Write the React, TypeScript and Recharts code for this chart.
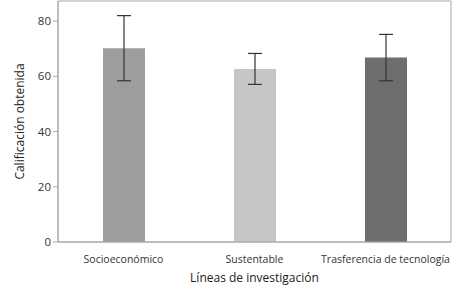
import React from "react";
import { BarChart, Bar, XAxis, YAxis, ErrorBar, Cell, Label, ReferenceArea } from "recharts";

const categories = ["Socioeconómico", "Sustentable", "Trasferencia de tecnología"];
const means = [70.2, 62.7, 66.8];
const errors = [11.8, 5.6, 8.4];
const colors = ["#9d9d9d", "#c6c6c6", "#6e6e6e"];
const yTicks = [0, 20, 40, 60, 80];
const yMax = 87.3;

const data = categories.map((name, i) => ({ name, value: means[i], err: errors[i] }));

const FONT = "'Open Sans', 'Noto Sans', sans-serif";

export default function App() {
  return (
    <div style={{ position: "absolute", left: 0, top: 0, width: 454, height: 293, background: "#fff" }}>
      <BarChart
        width={454}
        height={293}
        data={data}
        margin={{ top: 1, right: 3, bottom: 9, left: 0 }}
      >
        <ReferenceArea y1={0} y2={yMax} fill="none" stroke="#a8a8a8" strokeWidth={1} ifOverflow="visible" />
        <XAxis
          dataKey="name"
          axisLine={{ stroke: "#a8a8a8" }}
          tickLine={false}
          tick={{ fill: "#333", fontSize: 10.5, fontFamily: FONT }}
          tickMargin={8}
          height={42}
          interval={0}
        >
          <Label value="Líneas de investigación" position="insideBottom" offset={2} style={{ fill: "#222", fontSize: 12, fontFamily: FONT }} />
        </XAxis>
        <YAxis
          domain={[0, yMax]}
          ticks={yTicks}
          axisLine={{ stroke: "#a8a8a8" }}
          tickLine={{ stroke: "#a8a8a8" }}
          tickSize={5}
          tick={{ fill: "#333", fontSize: 11.5, fontFamily: FONT }}
          width={58}
          allowDataOverflow
        >
          <Label value="Calificación obtenida" angle={-90} position="insideLeft" offset={20} style={{ textAnchor: "middle", fill: "#222", fontSize: 12, fontFamily: FONT }} />
        </YAxis>
        <Bar dataKey="value" barSize={42} isAnimationActive={false}>
          {data.map((d, i) => (
            <Cell key={d.name} fill={colors[i]} />
          ))}
          <ErrorBar dataKey="err" width={7} stroke="#333" strokeWidth={1.2} isAnimationActive={false} />
        </Bar>
      </BarChart>
    </div>
  );
}
